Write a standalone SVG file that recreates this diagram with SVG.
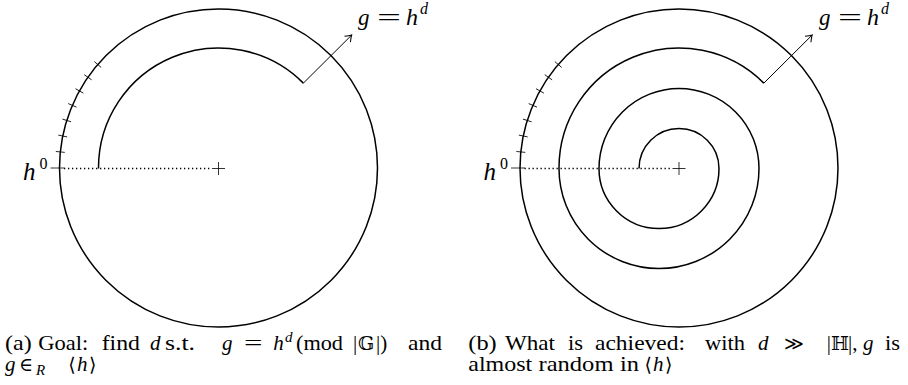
<svg xmlns="http://www.w3.org/2000/svg" width="908" height="385" viewBox="0 0 908 385">
<style>
.ln{fill:none;stroke:#000;stroke-width:1.5}
.thin{fill:none;stroke:#000;stroke-width:0.8}
.arr{fill:none;stroke:#000;stroke-width:1}
.dot{fill:none;stroke:#000;stroke-width:1.3;stroke-dasharray:1.3 2.7}
.mi{font-family:"Liberation Serif","DejaVu Serif",serif;font-style:italic}
.rm{font-family:"Liberation Serif","DejaVu Serif",serif}
.sym{font-family:"DejaVu Serif","DejaVu Sans",serif}
</style>
<defs>
<marker id="to" viewBox="-7 -5 9 10" markerWidth="9" markerHeight="10" refX="0" refY="0" orient="auto" markerUnits="userSpaceOnUse">
<path d="M-6,-4.2 Q-2,-1 0,0 Q-2,1 -6,4.2" fill="none" stroke="#000" stroke-width="1"/>
</marker>
<g id="ticks">
<line x1="-168" y1="0" x2="-154" y2="0" class="thin"/>
<line x1="-163.5" y1="0" x2="-154.5" y2="0" class="thin" transform="rotate(5.8)"/>
<line x1="-163.5" y1="0" x2="-154.5" y2="0" class="thin" transform="rotate(11.6)"/>
<line x1="-163.5" y1="0" x2="-154.5" y2="0" class="thin" transform="rotate(17.4)"/>
<line x1="-163.5" y1="0" x2="-154.5" y2="0" class="thin" transform="rotate(23.2)"/>
<line x1="-163.5" y1="0" x2="-154.5" y2="0" class="thin" transform="rotate(29)"/>
<line x1="-163.5" y1="0" x2="-154.5" y2="0" class="thin" transform="rotate(34.8)"/>
<line x1="-163.5" y1="0" x2="-154.5" y2="0" class="thin" transform="rotate(40.6)"/>
</g>
<g id="cross">
<line x1="-6.5" y1="0" x2="6.5" y2="0" class="thin"/>
<line x1="0" y1="-6.5" x2="0" y2="6.5" class="thin"/>
</g>
</defs>

<g id="panel-a">
<g id="a-circle"><circle cx="218.5" cy="168" r="159" class="ln"/></g>
<g id="a-ticks"><use href="#ticks" transform="translate(218.5,168)"/></g>
<g id="a-radius"><line x1="64" y1="168.5" x2="212" y2="168.5" class="dot"/><use href="#cross" transform="translate(218.5,168.5)"/></g>
<g id="a-path"><path d="M98.5,168.5 A120 120 0 0 1 303.35,83.15" class="ln"/></g>
<g id="a-connectors"><line x1="303.35" y1="83.15" x2="351.7" y2="35" class="arr" marker-end="url(#to)"/></g>
<g id="a-label-h0"><text class="mi" x="23" y="180" font-size="25">h</text><text class="rm" x="39.5" y="169" font-size="16">0</text></g>
<g id="a-label-g"><text class="mi" x="358" y="25" font-size="23">g</text><text class="rm" x="377" y="25" font-size="23" textLength="24" lengthAdjust="spacingAndGlyphs">=</text><text class="mi" x="406" y="25" font-size="24">h</text><text class="mi" x="420" y="14" font-size="16">d</text></g>
<g id="a-caption" font-size="21">
<text class="rm" x="5" y="349.5" textLength="26.7" lengthAdjust="spacingAndGlyphs">(a)</text>
<text class="rm" x="38.3" y="349.5" textLength="50" lengthAdjust="spacingAndGlyphs">Goal:</text>
<text class="rm" x="101.7" y="349.5" textLength="38.3" lengthAdjust="spacingAndGlyphs">find</text>
<text class="mi" x="150" y="349.5">d</text>
<text class="rm" x="165" y="349.5" textLength="30" lengthAdjust="spacingAndGlyphs">s.t.</text>
<text class="mi" x="222" y="349.5">g</text>
<text class="rm" x="244" y="349.5" textLength="18.5" lengthAdjust="spacingAndGlyphs">=</text>
<text class="mi" x="273.3" y="349.5">h</text>
<text class="mi" x="285" y="342" font-size="15">d</text>
<text class="rm" x="296" y="349.5" textLength="47" lengthAdjust="spacingAndGlyphs">(mod</text>
<text class="rm" x="353" y="349.5">|</text><text class="sym" x="358" y="349.5" font-size="19">𝔾</text><text class="rm" x="376" y="349.5">|)</text>
<text class="rm" x="408" y="349.5" textLength="34" lengthAdjust="spacingAndGlyphs">and</text>
<text class="mi" x="5" y="371">g</text>
<text class="sym" x="19" y="371" font-size="19">∈</text>
<text class="mi" x="36" y="374.5" font-size="15">R</text>
<text class="sym" x="68.3" y="371" font-size="19">⟨</text><text class="mi" x="77" y="371">h</text><text class="sym" x="89" y="371" font-size="19">⟩</text>
</g>
</g>

<g id="panel-b">
<g id="b-circle"><circle cx="679" cy="168" r="159" class="ln"/></g>
<g id="b-ticks"><use href="#ticks" transform="translate(679,168)"/></g>
<g id="b-radius"><line x1="524.5" y1="168.5" x2="672.5" y2="168.5" class="dot"/><use href="#cross" transform="translate(679,168.5)"/></g>
<g id="b-path"><path d="M639,168.5 A40 40 0 0 1 719,168.5 A60 60 0 0 1 599,168.5 A80 80 0 0 1 759,168.5 A100 100 0 0 1 559,168.5 A120 120 0 0 1 763.85,83.15" class="ln"/></g>
<g id="b-connectors"><line x1="763.85" y1="83.15" x2="812.2" y2="35" class="arr" marker-end="url(#to)"/></g>
<g id="b-label-h0"><text class="mi" x="483.5" y="180" font-size="25">h</text><text class="rm" x="500" y="169" font-size="16">0</text></g>
<g id="b-label-g"><text class="mi" x="819" y="25" font-size="23">g</text><text class="rm" x="838" y="25" font-size="23" textLength="24" lengthAdjust="spacingAndGlyphs">=</text><text class="mi" x="867" y="25" font-size="24">h</text><text class="mi" x="881" y="14" font-size="16">d</text></g>
<g id="b-caption" font-size="21">
<text class="rm" x="468.3" y="349.5" textLength="28.4" lengthAdjust="spacingAndGlyphs">(b)</text>
<text class="rm" x="505" y="349.5" textLength="50" lengthAdjust="spacingAndGlyphs">What</text>
<text class="rm" x="568" y="349.5" textLength="15" lengthAdjust="spacingAndGlyphs">is</text>
<text class="rm" x="595" y="349.5" textLength="90" lengthAdjust="spacingAndGlyphs">achieved:</text>
<text class="rm" x="705" y="349.5" textLength="40" lengthAdjust="spacingAndGlyphs">with</text>
<text class="mi" x="758" y="349.5">d</text>
<text class="sym" x="784" y="349.5" font-size="19">≫</text>
<text class="rm" x="826.7" y="349.5">|</text><text class="sym" x="831" y="349.5" font-size="19">ℍ</text><text class="rm" x="848" y="349.5">|,</text>
<text class="mi" x="863" y="349.5">g</text>
<text class="rm" x="885" y="349.5" textLength="15" lengthAdjust="spacingAndGlyphs">is</text>
<text class="rm" x="468.3" y="371" textLength="64" lengthAdjust="spacingAndGlyphs">almost</text>
<text class="rm" x="538.5" y="371" textLength="75" lengthAdjust="spacingAndGlyphs">random</text>
<text class="rm" x="620" y="371" textLength="19" lengthAdjust="spacingAndGlyphs">in</text>
<text class="sym" x="644.6" y="371" font-size="19">⟨</text><text class="mi" x="653" y="371">h</text><text class="sym" x="665" y="371" font-size="19">⟩</text>
</g>
</g>
</svg>
